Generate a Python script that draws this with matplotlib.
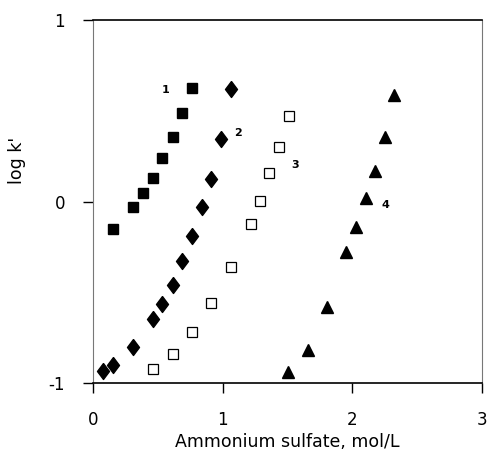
import matplotlib
matplotlib.use("Agg")
import matplotlib.pyplot as plt

plt.rcParams['font.family'] = ['DejaVu Sans']

# Series 1: filled squares
x1 = [0.157, 0.311, 0.383, 0.460, 0.534, 0.614, 0.684, 0.761]
y1 = [-0.153, -0.032, 0.045, 0.131, 0.238, 0.357, 0.486, 0.627]
# Series 2: filled diamonds
x2 = [0.075, 0.157, 0.311, 0.460, 0.534, 0.614, 0.689, 0.766, 0.843, 0.910, 0.987, 1.064]
y2 = [-0.932, -0.901, -0.803, -0.649, -0.565, -0.460, -0.328, -0.188, -0.029, 0.124, 0.343, 0.620]
# Series 3: open squares
x3 = [0.460, 0.614, 0.761, 0.910, 1.064, 1.216, 1.288, 1.359, 1.436, 1.511]
y3 = [-0.923, -0.840, -0.717, -0.561, -0.359, -0.124, 0.005, 0.155, 0.299, 0.471]
# Series 4: filled triangles
x4 = [1.506, 1.655, 1.802, 1.951, 2.025, 2.103, 2.174, 2.251, 2.321]
y4 = [-0.938, -0.818, -0.583, -0.277, -0.139, 0.019, 0.170, 0.354, 0.587]

series_labels = ["1", "2", "3", "4"]
label_x = [0.563, 1.118, 1.557, 2.252]
label_y = [0.614, 0.377, 0.201, -0.019]

xticks = [0, 1, 2, 3]
yticks = [-1, 0, 1]

fig = plt.figure(figsize=(4.89, 4.53), dpi=100)
ax = fig.add_axes([0.190, 0.1545, 0.796, 0.8013])

diamond = [(0, 1), (0.75, 0), (0, -1), (-0.75, 0), (0, 1)]

ax.plot(x1, y1, linestyle='none', marker='s', markersize=7.5, color='black')
ax.plot(x2, y2, linestyle='none', marker=diamond, markersize=11.5, color='black')
ax.plot(x3, y3, linestyle='none', marker='s', markersize=7.5, markerfacecolor='white',
        markeredgecolor='black', markeredgewidth=0.9)
ax.plot(x4, y4, linestyle='none', marker='^', markersize=9, color='black')

for lab, lx, ly in zip(series_labels, label_x, label_y):
    ax.text(lx, ly, lab, fontsize=8, fontweight='bold', ha='center', va='center')

ax.set_xlim(0, 3)
ax.set_ylim(-1, 1)
ax.set_xticks(xticks)
ax.set_yticks(yticks)
ax.set_xticklabels([str(t) for t in xticks])
ax.set_yticklabels([str(t) for t in yticks])
ax.tick_params(axis='both', direction='out', length=7, width=1, labelsize=12, pad=13)

for s in ['top', 'bottom']:
    ax.spines[s].set_linewidth(1.2)
    ax.spines[s].set_color('black')
for s in ['left', 'right']:
    ax.spines[s].set_linewidth(0.8)
    ax.spines[s].set_color('#777777')

ax.set_xlabel("Ammonium sulfate, mol/L", fontsize=12.5, labelpad=3)
ax.set_ylabel("log k'", fontsize=12.5)
ax.yaxis.set_label_coords(-0.172, 0.614)

fig.savefig("out.png", dpi=100)
